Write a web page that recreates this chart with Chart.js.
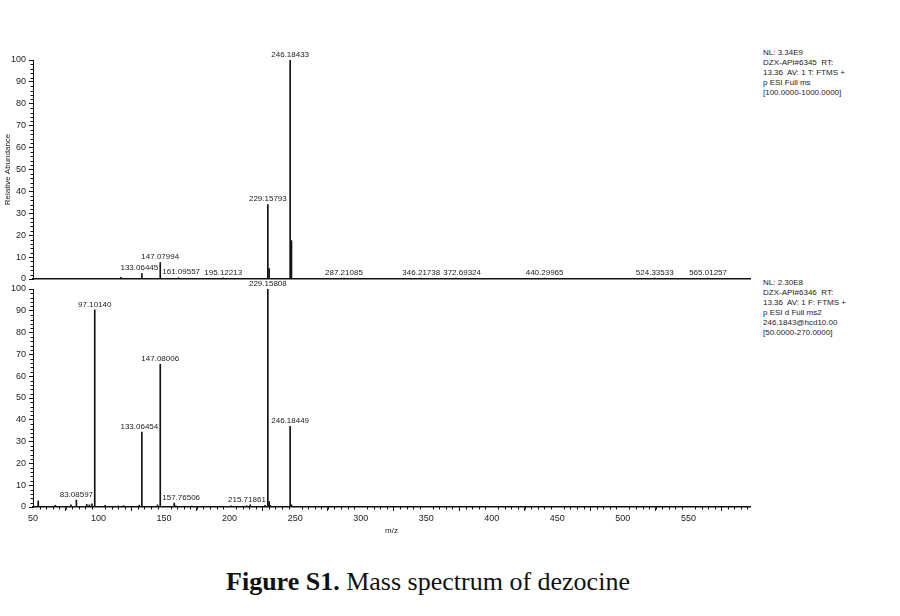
<!DOCTYPE html>
<html>
<head>
<meta charset="utf-8">
<script src="https://cdn.jsdelivr.net/npm/chart.js@4.4.1/dist/chart.umd.min.js"></script>
<style>
  body { margin: 0; background: #fff; }
  #page { position: relative; width: 900px; height: 616px; overflow: hidden; background: #fff; }
  .box { position: absolute; }
  .info { position: absolute; left: 763px; font: 8px 'Liberation Sans', Arial, sans-serif; line-height: 10px; color: #222; white-space: pre; }
  #caption { position: absolute; left: 0; width: 856px; top: 566px; text-align: center; font: 26px 'Liberation Serif', 'Times New Roman', serif; line-height: 32px; color: #111; }
</style>
</head>
<body>
<div id="page">
  <div class="box" style="left:0;top:40px;width:760px;height:249px"><canvas id="fullms"></canvas></div>
  <div class="box" style="left:0;top:275px;width:760px;height:265px"><canvas id="ms2"></canvas></div>
  <div class="info" style="top:48px">NL: 3.34E9
DZX-API#6345  RT:
13.36  AV: 1 T: FTMS +
p ESI Full ms
[100.0000-1000.0000]</div>
  <div class="info" style="top:278px">NL: 2.30E8
DZX-API#6346  RT:
13.36  AV: 1 F: FTMS +
p ESI d Full ms2
246.1843@hcd10.00
[50.0000-270.0000]</div>
  <div id="caption"><b>Figure S1.</b> Mass spectrum of dezocine</div>
</div>
<script>
// Full MS scan (top panel)
const fullMz = [117.1, 133.06445, 147.07994, 161.09557, 195.12213, 229.15793, 230.161, 246.18433, 247.188,
                287.21085, 346.21738, 372.69324, 440.29965, 524.33533, 565.01257];
const fullInt = [0.8, 2.5, 7.5, 0.6, 0.5, 34, 4.8, 100, 17.5, 0.4, 0.4, 0.4, 0.4, 0.4, 0.4];
const fullLabel = ['', '133.06445', '147.07994', '161.09557', '195.12213', '229.15793', '', '246.18433', '',
                   '287.21085', '346.21738', '372.69324', '440.29965', '524.33533', '565.01257'];

// MS2 of 246.1843 (bottom panel)
const ms2Mz = [54, 67, 79, 83.08597, 91, 93, 95, 97.10140, 105, 115, 119, 131, 133.06454, 145, 147.08006,
               157.76506, 159, 171, 201, 213, 215.71861, 227, 229.15808, 230.16, 231, 246.18449, 247.19];
const ms2Int = [2.8, 0.8, 1, 3.2, 1.2, 1, 1.5, 90.4, 0.8, 0.5, 0.6, 0.8, 34.4, 1, 65.5,
                1.8, 0.5, 0.5, 0.5, 0.6, 1, 0.8, 100, 2.5, 0.8, 37, 1];
const ms2Label = ['', '', '', '83.08597', '', '', '', '97.10140', '', '', '', '', '133.06454', '', '147.08006',
                  '157.76506', '', '', '', '', '215.71861', '', '229.15808', '', '', '246.18449', ''];

const xTicks = [50, 100, 150, 200, 250, 300, 350, 400, 450, 500, 550];
const yTicks = [0, 10, 20, 30, 40, 50, 60, 70, 80, 90, 100];

const FONT = "'Liberation Sans', Arial, sans-serif";
const INK = '#222';

// peak annotations + minor ticks
const spectrumPlugin = {
    id: 'spectrum',
    afterDraw(chart, args, opts) {
        const ctx = chart.ctx;
        const xs = chart.scales.x, ys = chart.scales.y;
        const data = chart.data.datasets[0].data;
        ctx.save();
        ctx.strokeStyle = '#111';
        ctx.lineWidth = 1;
        // minor y ticks every 2
        for (let v = 0; v <= 100; v += 2) {
            if (v % 10 === 0) continue;
            const py = Math.round(ys.getPixelForValue(v)) + 0.5;
            ctx.beginPath();
            ctx.moveTo(ys.right, py);
            ctx.lineTo(ys.right - 2.5, py);
            ctx.stroke();
        }
        // minor x ticks every 5 (bottom panel only)
        if (opts.xMinor) {
            for (let v = 55; v < xs.max; v += 5) {
                if (v % 50 === 0) continue;
                const px = Math.round(xs.getPixelForValue(v)) + 0.5;
                ctx.beginPath();
                ctx.moveTo(px, xs.top);
                ctx.lineTo(px, xs.top + 2.5);
                ctx.stroke();
            }
        }
        // labels: keep them off taller sticks and off each other
        ctx.fillStyle = INK;
        ctx.font = '8px ' + FONT;
        ctx.textAlign = 'center';
        ctx.textBaseline = 'bottom';
        const sticks = data.map(d => ({ x: xs.getPixelForValue(d.x), top: ys.getPixelForValue(d.y) }));
        const boxes = [];
        opts.labels.forEach((txt, i) => {
            if (!txt) return;
            const w = ctx.measureText(txt).width;
            const bottom = sticks[i].top - 1.5;
            let cx = sticks[i].x;
            sticks.forEach((s, j) => {
                if (j === i || s.top > bottom - 2) return;
                if (Math.abs(s.x - cx) < w / 2 + 1) {
                    cx = s.x < sticks[i].x ? s.x + w / 2 + 2 : s.x - w / 2 - 2;
                }
            });
            boxes.push({ txt, cx, w, bottom });
        });
        boxes.sort((a, b) => a.cx - b.cx);
        boxes.forEach((b, k) => {
            const prev = boxes[k - 1];
            if (prev && Math.abs(prev.bottom - b.bottom) < 10 && b.cx - b.w / 2 < prev.cx + prev.w / 2 + 3) {
                b.cx = prev.cx + prev.w / 2 + 3 + b.w / 2;
            }
            ctx.fillText(b.txt, b.cx, b.bottom);
        });
        ctx.restore();
    }
};

function makeSpectrum(id, mz, inten, labels, bottomPanel) {
    return new Chart(document.getElementById(id), {
        type: 'bar',
        data: {
            datasets: [{
                data: mz.map((m, i) => ({ x: m, y: inten[i] })),
                backgroundColor: '#111',
                borderWidth: 0,
                barThickness: 1
            }]
        },
        plugins: [spectrumPlugin],
        options: {
            responsive: true,
            maintainAspectRatio: false,
            animation: false,
            layout: { padding: { top: bottomPanel ? 14 : 20, right: 10, left: 0, bottom: 0 } },
            plugins: {
                legend: { display: false },
                tooltip: { enabled: false },
                spectrum: { labels: labels, xMinor: bottomPanel }
            },
            scales: {
                x: {
                    type: 'linear',
                    min: 50,
                    max: 597,
                    offset: false,
                    afterFit: s => { s.height = bottomPanel ? 33 : 10; },
                    afterBuildTicks: s => { s.ticks = xTicks.map(v => ({ value: v })); },
                    grid: { display: bottomPanel, drawOnChartArea: false, drawTicks: true, tickLength: 4, color: '#111', tickWidth: 1 },
                    border: { display: true, color: '#111', width: 1.5 },
                    ticks: { display: bottomPanel, color: INK, font: { family: FONT, size: 9 }, padding: 2, maxRotation: 0 },
                    title: { display: bottomPanel, text: 'm/z', color: INK, font: { family: FONT, size: 8 }, padding: { top: 0, bottom: 4 } }
                },
                y: {
                    min: 0,
                    max: 100,
                    afterFit: s => { s.width = 33; },
                    afterBuildTicks: s => { s.ticks = yTicks.map(v => ({ value: v })); },
                    grid: { drawOnChartArea: false, drawTicks: true, tickLength: 4, color: '#111', tickWidth: 1 },
                    border: { display: true, color: '#111', width: 1 },
                    ticks: { color: INK, font: { family: FONT, size: 9 }, padding: 3 },
                    title: { display: !bottomPanel, text: 'Relative Abundance', color: INK, font: { family: FONT, size: 8 }, padding: { top: 3, bottom: 0 } }
                }
            }
        }
    });
}

makeSpectrum('fullms', fullMz, fullInt, fullLabel, false);
makeSpectrum('ms2', ms2Mz, ms2Int, ms2Label, true);
</script>
</body>
</html>
